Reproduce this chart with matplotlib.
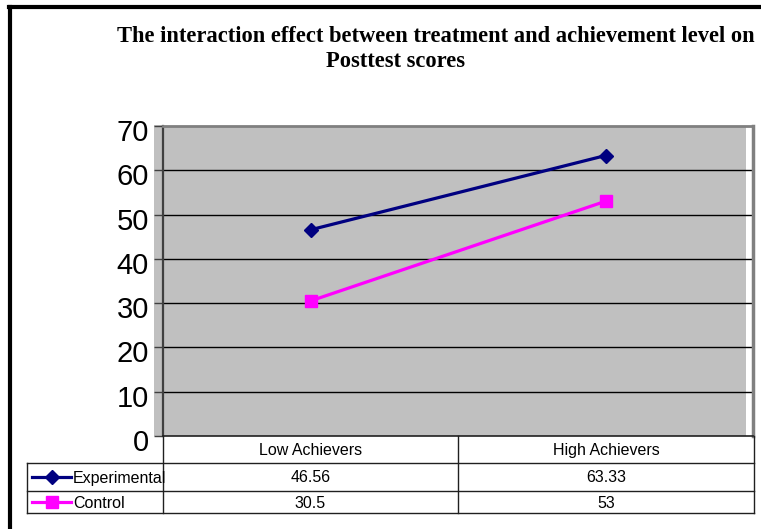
import matplotlib
matplotlib.use("Agg")
import matplotlib.pyplot as plt
from matplotlib.lines import Line2D
from matplotlib.patches import Rectangle
import matplotlib.transforms as mtransforms

# data
categories = ["Low Achievers", "High Achievers"]
series_names = ["Experimental", "Control"]
experimental = [46.56, 63.33]
control = [30.5, 53]
value_labels = [["46.56", "63.33"], ["30.5", "53"]]
yticks = [0, 10, 20, 30, 40, 50, 60, 70]
title = "The interaction effect between treatment and achievement level on\nPosttest scores"

colors = ["#000080", "#FF00FF"]
markers = ["D", "s"]
msizes = [7.5, 9]

W, H = 761, 529
fig = plt.figure(figsize=(W / 100, H / 100), dpi=100)
sans = ["Liberation Sans", "DejaVu Sans"]
serif = ["Liberation Serif", "DejaVu Serif"]


def fx(x):
    return x / W


def fy(y):
    return 1 - y / H


# side wall left of the y axis
fig.add_artist(Rectangle((fx(154), fy(436)), fx(163 - 154), (436 - 125) / H,
                         transform=fig.transFigure, facecolor="#C0C0C0",
                         edgecolor="none", zorder=0))

# plot area in pixel positions
left, right, top, bottom = 163, 753, 126, 436
ax = fig.add_axes([fx(left), fy(bottom), fx(right - left), (bottom - top) / H])
ax.set_facecolor("#C0C0C0")
ax.set_xlim(-0.5, 1.5)
ax.set_ylim(0, 70)
ax.set_xticks([])
ax.set_yticks(yticks)
ax.set_yticklabels([str(t) for t in yticks], fontsize=21, family=sans)
ax.tick_params(axis="y", length=6.5, width=1, color="#404040", pad=3.5)
offset = mtransforms.ScaledTranslation(0, -4 / 100, fig.dpi_scale_trans)
for lab in ax.get_yticklabels():
    lab.set_transform(lab.get_transform() + offset)
for t in yticks[1:-1]:
    ax.axhline(t, color="black", lw=1, zorder=1)
ax.spines["left"].set_color("#404040")
ax.spines["left"].set_linewidth(1.6)
ax.spines["bottom"].set_color("#202020")
ax.spines["bottom"].set_linewidth(1.2)
ax.spines["top"].set_color("#808080")
ax.spines["top"].set_linewidth(2)
ax.spines["right"].set_color("#808080")
ax.spines["right"].set_linewidth(2.5)
# white strip at right edge of the plot area
ax.add_patch(Rectangle((0.988, 0), 0.012, 1, transform=ax.transAxes,
                       facecolor="white", edgecolor="none", zorder=0.5))

x = list(range(len(categories)))
ax.plot(x, experimental, color=colors[0], lw=2.3, marker=markers[0],
        markersize=msizes[0], zorder=3)
ax.plot(x, control, color=colors[1], lw=2.3, marker=markers[1],
        markersize=msizes[1], zorder=3)

# data table under the plot
col_x = [27, 163, 458, 754]
row_y = [436, 463, 491, 513]
lc = "#202020"


def hline(y, x0, x1):
    fig.add_artist(Line2D([fx(x0), fx(x1)], [fy(y), fy(y)], color=lc, lw=1))


def vline(x, y0, y1):
    fig.add_artist(Line2D([fx(x), fx(x)], [fy(y0), fy(y1)], color=lc, lw=1))


hline(row_y[1], col_x[0], col_x[3])
hline(row_y[2], col_x[0], col_x[3])
hline(row_y[3], col_x[0], col_x[3])
vline(col_x[0], row_y[1], row_y[3])
vline(col_x[1], row_y[0], row_y[3])
vline(col_x[2], row_y[0], row_y[3])
vline(col_x[3], row_y[0], row_y[3])

fs_tab = 11.5
for j, cat in enumerate(categories):
    cx = (col_x[j + 1] + col_x[j + 2]) / 2
    fig.text(fx(cx), fy((row_y[0] + row_y[1]) / 2 + 1), cat, ha="center",
             va="center", fontsize=fs_tab, family=sans)
for i, name in enumerate(series_names):
    cy = (row_y[i + 1] + row_y[i + 2]) / 2
    fig.add_artist(Line2D([fx(32), fx(71)], [fy(cy), fy(cy)], color=colors[i],
                          lw=2.3))
    fig.add_artist(Line2D([fx(51.5)], [fy(cy)], color=colors[i],
                          marker=markers[i], markersize=msizes[i], lw=0))
    fig.text(fx(73), fy(cy + 1), name, ha="left", va="center",
             fontsize=fs_tab, family=sans)
    for j in range(len(categories)):
        cx = (col_x[j + 1] + col_x[j + 2]) / 2
        fig.text(fx(cx), fy(cy + 1), value_labels[i][j], ha="center",
                 va="center", fontsize=fs_tab, family=sans)

# title, fitted to the width of the reference
line1, line2 = title.split("\n")
t1 = fig.text(fx(117), fy(42.5), line1, ha="left", va="baseline",
              fontsize=15, family=serif, fontweight="bold")
t2 = fig.text(fx(396), fy(67), line2, ha="center", va="baseline",
              fontsize=15, family=serif, fontweight="bold")
fig.canvas.draw()
w = t1.get_window_extent().width
fs = 15 * 639 / w
t1.set_fontsize(fs)
t2.set_fontsize(fs)

# outer frame (left and top edges only are visible)
fig.add_artist(Line2D([fx(10), fx(10)], [fy(7), 0], color="black", lw=3))
fig.add_artist(Line2D([fx(8.5), 1], [fy(7), fy(7)], color="black", lw=3))

fig.savefig("out.png", dpi=100)
